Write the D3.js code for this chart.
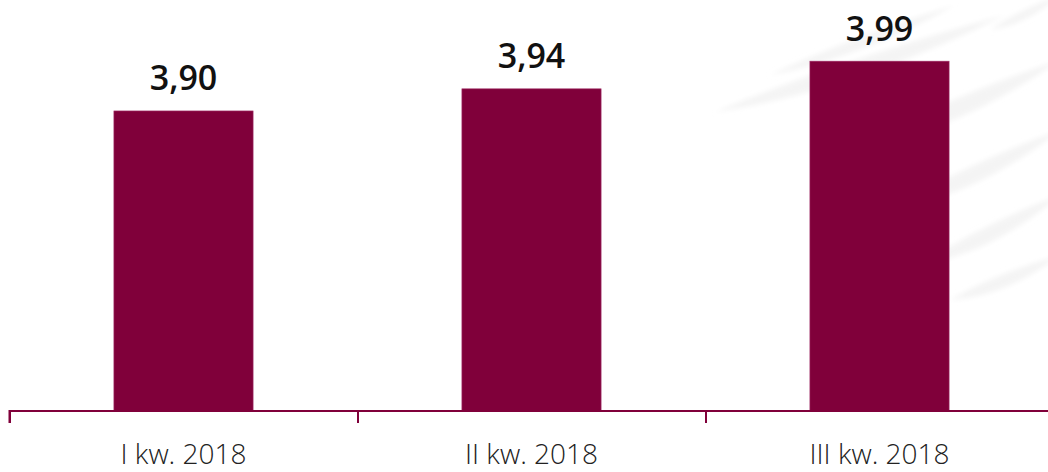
<!DOCTYPE html>
<html>
<head>
<meta charset="utf-8">
<script src="https://cdn.jsdelivr.net/npm/d3@7"></script>
<style>
  html, body { margin: 0; padding: 0; background: #fff; }
  svg { display: block; }
</style>
</head>
<body>
<svg id="chart" width="1048" height="472"></svg>
<script>
// Quarterly values
const categories = ["I kw. 2018", "II kw. 2018", "III kw. 2018"];
const values = [3.90, 3.94, 3.99];
const valueLabels = ["3,90", "3,94", "3,99"];

const W = 1048, H = 472;
const baseY = 411;
const svg = d3.select("#chart");

// soft blur for the background leaf motif
svg.append("defs").append("filter").attr("id", "soft")
  .append("feGaussianBlur").attr("stdDeviation", 2.5);

// faint decorative leaf motif in the background
const leaves = [
  // [base x, base y, tip x, tip y, half-width]
  [715, 112, 1005, 15, 24],
  [770, 75, 955, 5, 16],
  [850, 150, 1060, 60, 26],
  [890, 210, 1060, 130, 24],
  [920, 265, 1060, 195, 22],
  [950, 300, 1060, 255, 18],
  [990, 30, 1060, -5, 12]
];
const bg = svg.append("g").attr("class", "watermark").attr("filter", "url(#soft)");
leaves.forEach(([x1, y1, x2, y2, w]) => {
  const dx = x2 - x1, dy = y2 - y1, len = Math.hypot(dx, dy);
  const nx = -dy / len * w, ny = dx / len * w;
  const mx = x1 + dx * 0.45, my = y1 + dy * 0.45;
  const p = d3.path();
  p.moveTo(x1, y1);
  p.quadraticCurveTo(mx + nx, my + ny, x2, y2);
  p.quadraticCurveTo(mx - nx * 0.4, my - ny * 0.4, x1, y1);
  bg.append("path").attr("d", p.toString())
    .attr("fill", "#f4f4f4");
});

const x = d3.scaleBand().domain(categories).range([9.5, 1053.5]).padding(0);
const barW = x.bandwidth() * 0.4;
const y = d3.scaleLinear().domain([3.3574, 4.1]).range([baseY, baseY - 0.7426 * 553]);

const maroon = "#80003a";

// bars
svg.append("g").selectAll("rect")
  .data(values)
  .join("rect")
  .attr("x", (d, i) => x(categories[i]) + (x.bandwidth() - barW) / 2)
  .attr("y", d => y(d))
  .attr("width", barW)
  .attr("height", d => baseY - y(d))
  .attr("fill", maroon)
  .attr("stroke", "#a3336b")
  .attr("stroke-width", 0.6);

// value labels
svg.append("g").selectAll("text")
  .data(values)
  .join("text")
  .attr("x", (d, i) => x(categories[i]) + x.bandwidth() / 2)
  .attr("y", d => y(d) - 20.5)
  .attr("text-anchor", "middle")
  .attr("font-family", "'Open Sans', sans-serif")
  .attr("font-weight", 600)
  .attr("font-size", 34)
  .attr("fill", "#111")
  .text((d, i) => valueLabels[i]);

// category axis: boundary ticks between categories
const edges = d3.scaleLinear().domain([0, categories.length]).range(x.range());
const axis = svg.append("g").attr("transform", `translate(0,${baseY})`)
  .call(d3.axisBottom(edges).tickValues(d3.range(categories.length + 1)).tickSize(12).tickFormat(""));
axis.selectAll("path, line").attr("stroke", maroon).attr("stroke-width", 2);
axis.select(".domain").attr("d", `M${x.range()[0]},12V0H${x.range()[1]}`);

// category labels
svg.append("g").selectAll("text")
  .data(categories)
  .join("text")
  .attr("x", d => x(d) + x.bandwidth() / 2)
  .attr("y", 464)
  .attr("text-anchor", "middle")
  .attr("font-family", "'Open Sans', sans-serif")
  .attr("font-weight", 300)
  .attr("font-size", 28)
  .attr("fill", "#222")
  .text(d => d);
</script>
</body>
</html>
